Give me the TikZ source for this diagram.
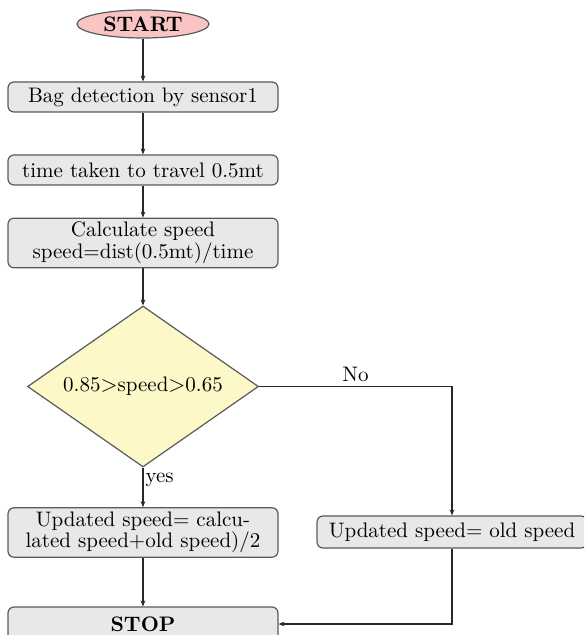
\documentclass[tikz,border=0pt]{standalone}
\usetikzlibrary{shapes.geometric,arrows.meta}
\definecolor{boxfill}{RGB}{232,232,232}
\definecolor{boxline}{RGB}{90,90,90}
\definecolor{startfill}{RGB}{248,196,196}
\definecolor{decfill}{RGB}{252,248,200}
\definecolor{linecol}{RGB}{40,40,40}
\tikzset{
  procbox/.style={draw=boxline, fill=boxfill, rounded corners=3pt, line width=0.6pt,
    minimum width=135pt, inner sep=2pt, align=center,
    font=\fontsize{10.5}{10.8}\selectfont},
  termbox/.style={procbox, font=\fontsize{10.5}{10.8}\selectfont\bfseries},
  startnode/.style={draw=boxline, fill=startfill, ellipse, line width=0.6pt,
    minimum width=66pt, minimum height=14pt, inner sep=0pt,
    font=\fontsize{10.5}{12}\selectfont\bfseries},
  decision/.style={draw=boxline, fill=decfill, diamond, line width=0.6pt,
    minimum width=115.5pt, minimum height=80.5pt, inner sep=0pt, aspect=1.43,
    font=\fontsize{10.5}{12}\selectfont},
  flow/.style={draw=linecol, line width=0.6pt, -{Stealth[length=3pt,width=2.4pt]}},
  lbl/.style={font=\fontsize{10.5}{12}\selectfont, inner sep=1pt}
}
\begin{document}
\begin{tikzpicture}[x=0.5pt,y=-0.5pt]
  \useasboundingbox (0,0) rectangle (584,635);
  \clip (0,0) rectangle (584,635);

  % main column
  \node[startnode] (start) at (143,24) {START};
  \node[procbox, minimum height=15pt] (detect) at (143,97) {Bag detection by sensor1};
  \node[procbox, minimum height=15pt] (travel) at (143,170) {time taken to travel 0.5mt};
  \node[procbox, minimum height=21.5pt] (calc) at (143,243) {Calculate speed\\speed=dist(0.5mt)/time};
  \node[decision] (check) at (143,386.5) {0.85$>$speed$>$0.65};
  \node[procbox, minimum height=21.5pt] (avg) at (143,532.5) {Updated speed= calcu-\\lated speed+old speed)/2};
  \node[termbox, minimum height=17pt] (stop) at (143,624) {STOP};

  % right branch
  \node[procbox, minimum height=16pt] (keep) at (452,532) {Updated speed= old speed};

  % connectors
  \draw[flow] (start) -- (detect);
  \draw[flow] (detect) -- (travel);
  \draw[flow] (travel) -- (calc);
  \draw[flow] (calc) -- (check);
  \draw[flow] (check) -- node[lbl, pos=0.3, anchor=west] {yes} (avg);
  \draw[flow] (check.east) -| node[lbl, pos=0.25, anchor=south, yshift=1pt] {No} (keep.north);
  \draw[flow] (avg) -- (stop);
  \draw[flow] (keep.south) |- (stop.east);
\end{tikzpicture}
\end{document}
